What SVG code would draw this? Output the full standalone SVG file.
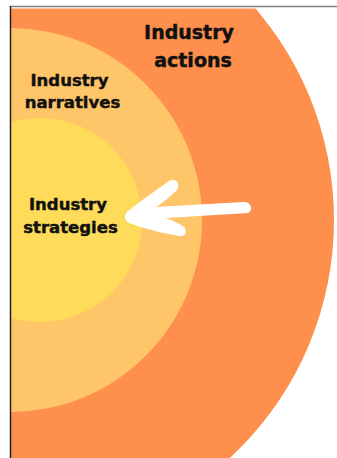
<svg xmlns="http://www.w3.org/2000/svg" width="337" height="458" viewBox="0 0 337 458">
  <style>
    .lbl { font-family: "DejaVu Sans", "Liberation Sans", sans-serif; font-weight: bold; fill: #111; stroke: #111; stroke-width: 0.45; text-anchor: middle; }
  </style>
  <defs>
    <clipPath id="frame"><rect x="11" y="8.5" width="326" height="449.5"/></clipPath>
  </defs>
  <rect width="337" height="458" fill="#fff"/>
  <g clip-path="url(#frame)">
    <g id="actions">
      <circle cx="10" cy="220" r="324" fill="#FE8F4D"/>
    </g>
    <g id="narratives">
      <circle cx="10" cy="220" r="192" fill="#FEC668"/>
    </g>
    <g id="strategies">
      <circle cx="40" cy="220" r="102" fill="#FEDB58"/>
    </g>
  </g>
  <g id="labels">
    <g id="actions-label">
      <text class="lbl" x="189" y="39" font-size="19">Industry</text>
      <text class="lbl" x="193" y="67" font-size="19">actions</text>
    </g>
    <g id="narratives-label">
      <text class="lbl" x="69.5" y="86" font-size="16.5">Industry</text>
      <text class="lbl" x="72.5" y="108" font-size="16.5">narratives</text>
    </g>
    <g id="strategies-label">
      <text class="lbl" x="68" y="210" font-size="16.5">Industry</text>
      <text class="lbl" x="70.5" y="233" font-size="16.5">strategies</text>
    </g>
  </g>
  <g id="connectors">
    <path fill="#fff" d="M127,212 C140,201 158,189 169,181 C175,177 181,183 177,190 C170,197 162,203 156,207 L243,202 C251,201 254,210 248,213 L166,218 C173,221 181,224 185,228 C187,233 185,237 179,236 C162,233 142,228 129,223 C124,220 124,215 127,212 Z"/>
  </g>
  <line x1="10" y1="6.5" x2="337" y2="6.5" stroke="#808080" stroke-width="1.5"/>
  <line x1="10.5" y1="6" x2="10.5" y2="458" stroke="#222" stroke-width="1.5"/>
</svg>
